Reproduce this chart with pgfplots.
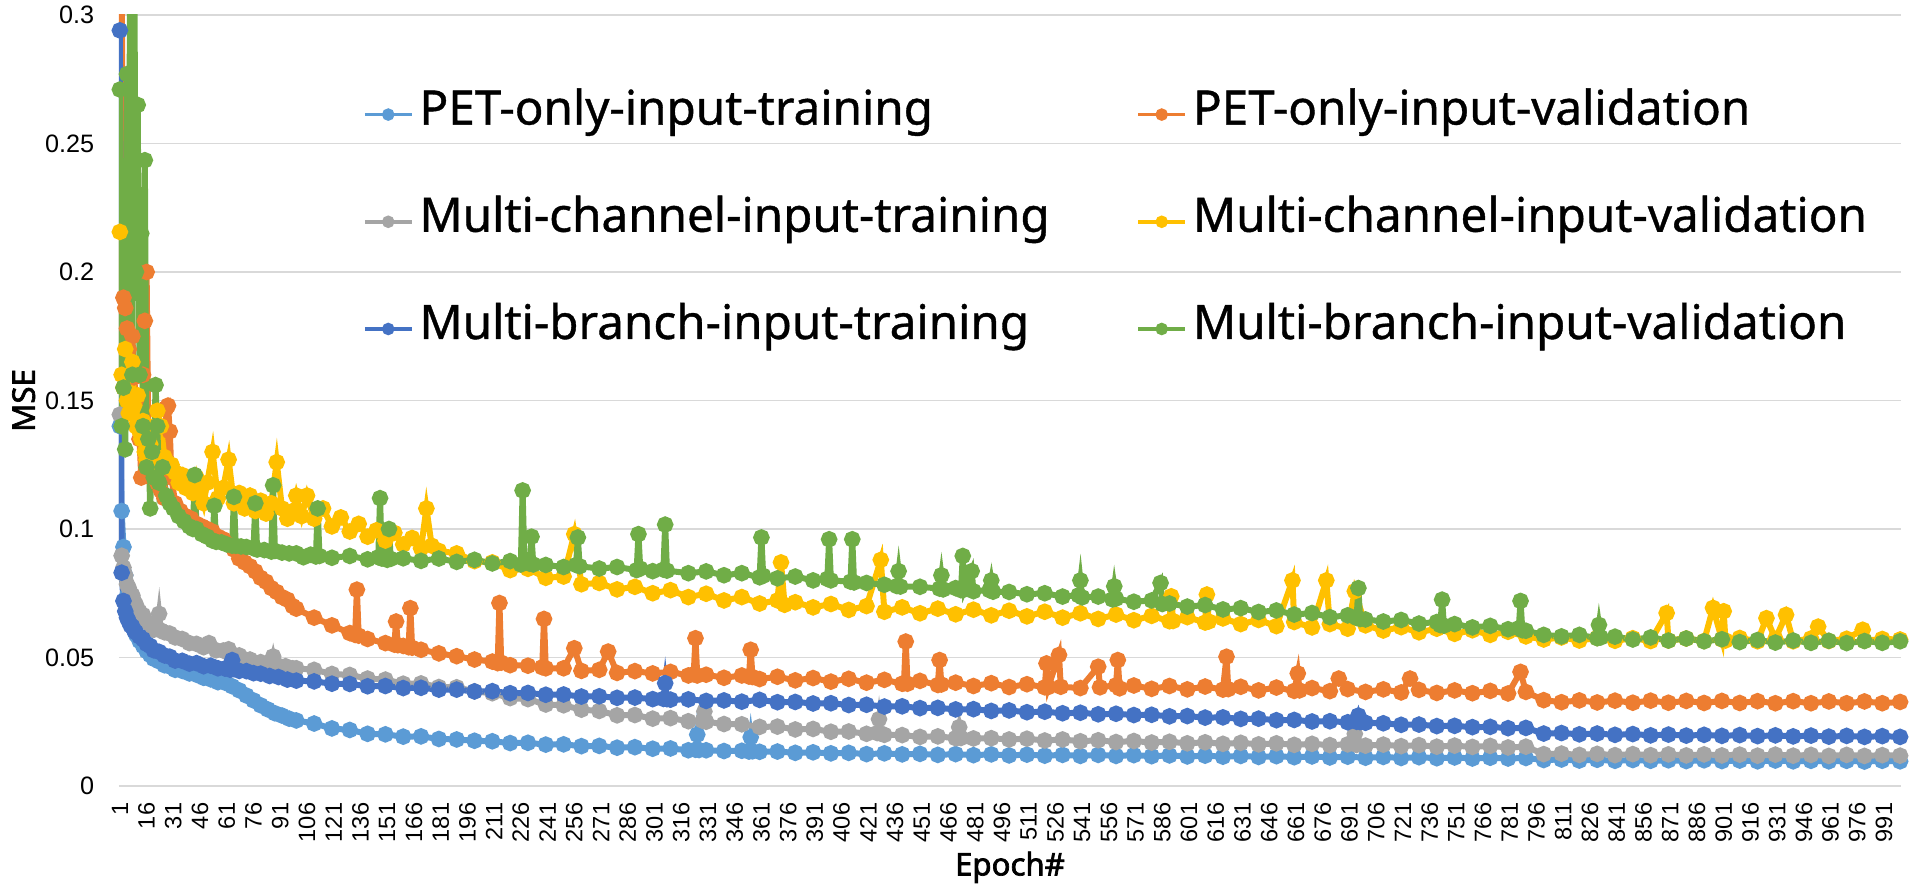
\documentclass[border=0pt]{standalone}
\usepackage{pgfplots}
\pgfplotsset{compat=1.18}
\usepackage{fontspec}
\setmainfont{Liberation Sans}
\newfontfamily\legfont[FakeBold=0.8]{Noto Sans}
\newfontfamily\titlefont[FakeBold=2.2]{Noto Sans}
\definecolor{cLB}{HTML}{5B9BD5}
\definecolor{cOR}{HTML}{ED7D31}
\definecolor{cGR}{HTML}{A5A5A5}
\definecolor{cYE}{HTML}{FFC000}
\definecolor{cDB}{HTML}{4472C4}
\definecolor{cGN}{HTML}{70AD47}
\begin{document}
\begin{tikzpicture}
\begin{axis}[
  scale only axis, width=445.5pt, height=192.75pt,
  xmin=0.5, xmax=1000.5, ymin=0, ymax=0.3,
  axis line style={draw=none},
  major tick length=0pt,
  /pgf/number format/assume math mode=true,
  ytick={0,0.05,0.1,0.15,0.2,0.25,0.3},
  yticklabels={0,0.05,0.1,0.15,0.2,0.25,0.3},
  xtick={1,16,...,991},
  xticklabel={\pgfmathprintnumber{\tick}},
  yticklabel style={font=\fontsize{6.3}{7}\selectfont, anchor=east, inner sep=0pt, xshift=-6pt},
  xticklabel style={font=\fontsize{5.9}{7}\selectfont, yshift=-4pt, rotate=90, anchor=east, inner sep=0pt},
  ymajorgrids, grid style={draw=black!15, line width=0.4pt},
  xlabel={\titlefont Epoch\#},
  ylabel={\titlefont MSE},
  xlabel style={at={(rel axis cs:0.5,-0.1160)}, anchor=base, font=\fontsize{7.8}{9}\selectfont},
  ylabel style={at={(rel axis cs:-0.0535,0.5)}, anchor=center, font=\fontsize{7.8}{9}\selectfont},
  every axis plot/.append style={line width=1.5pt, mark=*, mark size=1.3pt},
  legend columns=2,
  legend cell align=left,
  legend image code/.code={\draw[mark repeat=2,mark phase=2,#1,line width=0.9pt,mark size=1.1pt] plot coordinates {(0pt,0pt) (5.875pt,0pt) (11.75pt,0pt)};},
  legend style={draw=none, fill=none, inner sep=0pt, outer sep=0pt,
    at={(rel axis cs:0.1369,0.7318)}, anchor=west,
    font=\legfont\fontsize{11.9}{13}\selectfont,
    nodes={inner sep=0pt, text height=0.72em, text depth=0.22em},
    row sep=17.4pt,
    /tikz/every odd column/.append style={column sep=1.5pt},
    /tikz/every even column/.append style={column sep=21.7pt}},
]
\coordinate (BL) at (rel axis cs:0,0);
\coordinate (TR) at (rel axis cs:1,1);
% PET-only-input-training
\addplot[color=cLB, mark options={fill=cLB}] coordinates {
(1,0.140) (2,0.107) (3,0.093) (4,0.082) (5,0.074) (6,0.069) (7,0.066) (8,0.063) (9,0.061) (10,0.059)
(12,0.0565) (14,0.0545) (16,0.0525) (18,0.051) (20,0.0495) (23,0.0485) (26,0.047) (29,0.0465) (32,0.0452) (36,0.0448)
(40,0.0438) (44,0.0433) (48,0.0421) (52,0.0415) (56,0.0404) (60,0.0402) (64,0.0388) (68,0.0372) (72,0.0352) (76,0.0333)
(80,0.0314) (84,0.0298) (88,0.0283) (92,0.0274) (96,0.0262) (100,0.0255) (110,0.0243) (120,0.0224) (130,0.0218) (140,0.0203)
(150,0.0201) (160,0.0192) (170,0.0193) (180,0.0183) (190,0.0181) (200,0.0176) (210,0.0174) (220,0.0167) (230,0.0168) (240,0.0161)
(250,0.0162) (260,0.0155) (270,0.0156) (280,0.0149) (290,0.0151) (300,0.0145) (310,0.0146) (320,0.0139) (324,0.0141) (325,0.0200)
(326,0.0140) (330,0.0139) (340,0.0136) (350,0.0137) (354,0.0134) (355,0.0190) (356,0.0135) (360,0.0133) (370,0.0134) (380,0.0129)
(390,0.0131) (400,0.0127) (410,0.0129) (420,0.0124) (430,0.0127) (440,0.0123) (450,0.0125) (460,0.0121) (470,0.0124) (480,0.0120)
(490,0.0123) (500,0.0119) (510,0.0122) (520,0.0118) (530,0.0121) (540,0.0117) (550,0.0121) (560,0.0117) (570,0.0120) (580,0.0116)
(590,0.0119) (600,0.0115) (610,0.0118) (620,0.0114) (630,0.0117) (640,0.0113) (650,0.0116) (660,0.0112) (670,0.0115) (680,0.0111)
(690,0.0114) (700,0.0110) (710,0.0113) (720,0.0109) (730,0.0112) (740,0.0108) (750,0.0111) (760,0.0107) (770,0.0110) (780,0.0107)
(790,0.0109) (800,0.0101) (810,0.0103) (820,0.0099) (830,0.0102) (840,0.0098) (850,0.0101) (860,0.0098) (870,0.0100) (880,0.0097)
(890,0.0100) (900,0.0097) (910,0.0099) (920,0.0096) (930,0.0099) (940,0.0096) (950,0.0098) (960,0.0096) (970,0.0098) (980,0.0095)
(990,0.0098) (1000,0.0096)
};
\addlegendentry{PET-only-input-training}
% PET-only-input-validation
\addplot[color=cOR, mark options={fill=cOR}] coordinates {
(1,0.45) (2,0.32) (3,0.19) (4,0.186) (5,0.178) (6,0.17) (7,0.16) (8,0.175) (9,0.159) (10,0.15)
(11,0.14) (12,0.135) (13,0.12) (14,0.16) (15,0.181) (16,0.200) (17,0.13) (18,0.125) (19,0.122) (20,0.12)
(22,0.118) (24,0.115) (26,0.112) (27,0.147) (28,0.148) (29,0.138) (30,0.12) (32,0.11) (35,0.107) (38,0.105)
(41,0.104) (44,0.102) (47,0.101) (50,0.1) (53,0.099) (56,0.097) (59,0.096) (62,0.094) (65,0.092) (68,0.0885)
(71,0.087) (74,0.0855) (77,0.0835) (80,0.081) (83,0.0795) (86,0.077) (89,0.0755) (92,0.0735) (95,0.0725) (98,0.0700)
(100,0.0690) (110,0.0655) (120,0.0625) (130,0.0595) (133,0.0588) (134,0.0764) (135,0.0585) (140,0.0572) (150,0.0556) (155,0.0550)
(156,0.0640) (157,0.0548) (160,0.0545) (163,0.0540) (164,0.0692) (165,0.0538) (170,0.0530) (180,0.0516) (190,0.0505) (200,0.0492)
(210,0.0484) (213,0.0478) (214,0.0712) (215,0.0480) (220,0.0470) (230,0.0468) (238,0.0462) (239,0.0650) (240,0.0458) (250,0.0458)
(256,0.0536) (260,0.0448) (270,0.0452) (275,0.0523) (280,0.0440) (290,0.0447) (300,0.0438) (310,0.0444) (320,0.0430) (323,0.0435)
(324,0.0575) (325,0.0430) (330,0.0433) (340,0.0421) (350,0.0430) (354,0.0426) (355,0.0530) (356,0.0424) (360,0.0416) (370,0.0425)
(380,0.0411) (390,0.0420) (400,0.0406) (410,0.0417) (420,0.0402) (430,0.0413) (440,0.0398) (441,0.0400) (442,0.0562) (443,0.0398)
(450,0.0409) (460,0.0393) (461,0.0490) (462,0.0395) (470,0.0402) (480,0.0389) (490,0.0400) (500,0.0385) (510,0.0396) (520,0.0384)
(521,0.0477) (522,0.0385) (528,0.0510) (529,0.0386) (540,0.0381) (550,0.0464) (551,0.0384) (560,0.0392) (561,0.0490) (562,0.0380)
(570,0.0391) (580,0.0378) (590,0.0389) (600,0.0376) (610,0.0387) (620,0.0375) (622,0.0503) (623,0.0377) (630,0.0386) (640,0.0372)
(650,0.0383) (660,0.0370) (662,0.0438) (663,0.0372) (670,0.0381) (680,0.0369) (685,0.0418) (690,0.0377) (700,0.0366) (710,0.0376)
(720,0.0364) (725,0.0418) (730,0.0374) (740,0.0362) (750,0.0372) (760,0.0361) (770,0.0370) (780,0.0360) (787,0.0444) (790,0.0366)
(800,0.0334) (810,0.0326) (820,0.0333) (830,0.0325) (840,0.0332) (850,0.0324) (860,0.0332) (870,0.0324) (880,0.0331) (890,0.0323)
(900,0.0331) (910,0.0323) (920,0.0330) (930,0.0322) (940,0.0330) (950,0.0322) (960,0.0329) (970,0.0322) (980,0.0329) (990,0.0322)
(1000,0.0327)
};
\addlegendentry{PET-only-input-validation}
% Multi-channel-input-training
\addplot[color=cGR, mark options={fill=cGR}] coordinates {
(1,0.1445) (2,0.0896) (3,0.085) (4,0.082) (5,0.0785) (6,0.077) (7,0.0748) (8,0.0742) (9,0.0718) (10,0.0705)
(12,0.0678) (14,0.0665) (16,0.0638) (18,0.0628) (20,0.0608) (22,0.0612) (23,0.0670) (24,0.0605) (26,0.0598) (29,0.0593)
(32,0.0578) (36,0.0572) (40,0.0556) (44,0.0553) (48,0.0540) (51,0.0556) (55,0.0528) (59,0.0527) (62,0.0532) (65,0.0510)
(68,0.0508) (71,0.0493) (74,0.0492) (77,0.0478) (80,0.0482) (84,0.0472) (86,0.0474) (87,0.0504) (88,0.0472) (90,0.0468)
(94,0.0466) (98,0.0458) (100,0.0458) (110,0.0452) (120,0.0436) (130,0.0432) (140,0.0418) (150,0.0414) (160,0.0398) (170,0.0399)
(180,0.0385) (190,0.0384) (200,0.0368) (210,0.0361) (220,0.0342) (230,0.0338) (240,0.0317) (250,0.0314) (260,0.0297) (270,0.0292)
(280,0.0275) (290,0.0276) (300,0.0262) (310,0.0264) (320,0.0252) (328,0.0254) (329,0.0290) (330,0.0250) (340,0.0241) (350,0.0240)
(360,0.0230) (370,0.0231) (380,0.0220) (390,0.0222) (400,0.0211) (410,0.0212) (420,0.0203) (426,0.0206) (427,0.0260) (428,0.0204)
(430,0.0199) (440,0.0198) (450,0.0191) (460,0.0193) (470,0.0186) (471,0.0188) (472,0.0229) (473,0.0187) (480,0.0185) (490,0.0186)
(500,0.0181) (510,0.0184) (520,0.0177) (530,0.0181) (540,0.0174) (550,0.0178) (560,0.0171) (570,0.0175) (580,0.0169) (590,0.0172)
(600,0.0166) (610,0.0170) (620,0.0164) (630,0.0168) (640,0.0162) (650,0.0166) (660,0.0160) (670,0.0164) (680,0.0159) (690,0.0162)
(694,0.0203) (695,0.0160) (700,0.0157) (710,0.0161) (720,0.0155) (730,0.0159) (740,0.0153) (750,0.0157) (760,0.0152) (770,0.0156)
(780,0.0150) (790,0.0153) (800,0.0124) (810,0.0126) (820,0.0121) (830,0.0125) (840,0.0120) (850,0.0124) (860,0.0120) (870,0.0123)
(880,0.0119) (890,0.0123) (900,0.0119) (910,0.0122) (920,0.0118) (930,0.0122) (940,0.0118) (950,0.0121) (960,0.0117) (970,0.0121)
(980,0.0117) (990,0.0120) (1000,0.0118)
};
\addlegendentry{Multi-channel-input-training}
% Multi-channel-input-validation
\addplot[color=cYE, mark options={fill=cYE}] coordinates {
(1,0.2156) (2,0.16) (3,0.155) (4,0.17) (5,0.15) (6,0.145) (7,0.16) (8,0.165) (9,0.148) (10,0.14)
(11,0.152) (12,0.138) (13,0.135) (14,0.142) (15,0.13) (16,0.127) (17,0.14) (18,0.133) (19,0.128) (20,0.124)
(22,0.146) (24,0.14) (26,0.128) (28,0.124) (30,0.125) (32,0.122) (34,0.118) (36,0.121) (38,0.116) (40,0.119)
(42,0.114) (44,0.12) (46,0.115) (48,0.11) (50,0.118) (53,0.13) (56,0.112) (59,0.116) (62,0.127) (65,0.11)
(68,0.114) (71,0.108) (74,0.113) (77,0.107) (80,0.111) (83,0.106) (86,0.11) (89,0.126) (92,0.108) (95,0.104)
(98,0.107) (100,0.1130) (103,0.1050) (106,0.1130) (110,0.1040) (115,0.1080) (120,0.1010) (125,0.1045) (130,0.0990) (135,0.1020)
(140,0.0970) (145,0.0995) (150,0.0955) (155,0.0985) (160,0.0940) (165,0.0965) (170,0.0925) (173,0.1080) (176,0.0935) (180,0.0915)
(190,0.0905) (200,0.0875) (210,0.0870) (220,0.0840) (230,0.0845) (240,0.0810) (250,0.0815) (256,0.0980) (260,0.0785) (270,0.0790)
(280,0.0765) (290,0.0775) (300,0.0750) (310,0.0762) (320,0.0735) (330,0.0748) (340,0.0722) (350,0.0735) (360,0.0710) (370,0.0722)
(372,0.0870) (374,0.0705) (380,0.0715) (390,0.0695) (400,0.0708) (410,0.0685) (420,0.0700) (428,0.0880) (430,0.0678) (440,0.0695)
(450,0.0672) (460,0.0690) (470,0.0668) (480,0.0686) (490,0.0664) (500,0.0682) (510,0.0660) (520,0.0678) (530,0.0655) (540,0.0672)
(550,0.0650) (560,0.0667) (570,0.0645) (580,0.0662) (590,0.0641) (591,0.0738) (592,0.0642) (600,0.0657) (610,0.0636) (611,0.0745)
(612,0.0640) (620,0.0652) (630,0.0630) (640,0.0646) (650,0.0622) (659,0.0800) (660,0.0638) (670,0.0617) (678,0.0800) (680,0.0630)
(690,0.0612) (694,0.0758) (700,0.0625) (710,0.0605) (720,0.0618) (730,0.0598) (740,0.0612) (750,0.0592) (760,0.0606) (770,0.0588)
(780,0.0600) (790,0.0582) (800,0.0570) (810,0.0578) (820,0.0566) (830,0.0576) (840,0.0565) (850,0.0575) (860,0.0564) (869,0.0673)
(870,0.0566) (880,0.0574) (890,0.0564) (895,0.0693) (900,0.0570) (901,0.0680) (902,0.0566) (910,0.0576) (920,0.0563) (925,0.0653)
(930,0.0572) (936,0.0666) (940,0.0563) (950,0.0574) (954,0.0620) (960,0.0564) (970,0.0573) (979,0.0608) (980,0.0565) (990,0.0572)
(1000,0.0570)
};
\addlegendentry{Multi-channel-input-validation}
% Multi-branch-input-training
\addplot[color=cDB, mark options={fill=cDB}] coordinates {
(1,0.294) (2,0.083) (3,0.072) (4,0.068) (5,0.0655) (6,0.064) (7,0.0625) (8,0.062) (9,0.0605) (10,0.0598)
(12,0.0582) (14,0.0571) (16,0.0553) (18,0.0545) (20,0.0528) (23,0.0522) (26,0.0508) (29,0.0503) (32,0.0488) (36,0.0487)
(40,0.0476) (44,0.0478) (48,0.0466) (52,0.0468) (56,0.0458) (60,0.0457) (63,0.0452) (64,0.0490) (65,0.0455) (68,0.0448)
(72,0.0447) (76,0.0439) (80,0.0437) (85,0.0428) (90,0.0424) (95,0.0414) (100,0.0410) (110,0.0407) (120,0.0398) (130,0.0397)
(140,0.0388) (150,0.0389) (160,0.0381) (170,0.0382) (180,0.0375) (190,0.0375) (200,0.0368) (210,0.0369) (220,0.0361) (230,0.0362)
(240,0.0355) (250,0.0356) (260,0.0348) (270,0.0349) (280,0.0343) (290,0.0344) (300,0.0338) (306,0.0339) (307,0.0400) (308,0.0338)
(310,0.0336) (320,0.0337) (330,0.0331) (340,0.0333) (350,0.0328) (360,0.0335) (370,0.0326) (380,0.0327) (390,0.0321) (400,0.0322)
(410,0.0315) (420,0.0316) (430,0.0309) (440,0.0310) (450,0.0303) (460,0.0304) (470,0.0298) (480,0.0299) (490,0.0292) (500,0.0294)
(510,0.0287) (520,0.0289) (530,0.0283) (540,0.0285) (550,0.0279) (560,0.0281) (570,0.0276) (580,0.0277) (590,0.0271) (600,0.0272)
(610,0.0266) (620,0.0267) (630,0.0261) (640,0.0262) (650,0.0256) (660,0.0257) (670,0.0251) (680,0.0252) (690,0.0248) (695,0.0250)
(696,0.0274) (697,0.0249) (700,0.0246) (710,0.0244) (720,0.0238) (730,0.0239) (740,0.0233) (750,0.0234) (760,0.0229) (770,0.0230)
(780,0.0225) (790,0.0226) (800,0.0204) (810,0.0206) (820,0.0201) (830,0.0204) (840,0.0199) (850,0.0202) (860,0.0197) (870,0.0200)
(880,0.0196) (890,0.0199) (900,0.0195) (910,0.0198) (920,0.0194) (930,0.0197) (940,0.0193) (950,0.0196) (960,0.0192) (970,0.0195)
(980,0.0191) (990,0.0194) (1000,0.0191)
};
\addlegendentry{Multi-branch-input-training}
% Multi-branch-input-validation
\addplot[color=cGN, mark options={fill=cGN}] coordinates {
(1,0.271) (2,0.14) (3,0.155) (4,0.131) (5,0.277) (6,0.21) (7,0.35) (8,0.16) (9,0.33) (10,0.2)
(11,0.265) (12,0.16) (13,0.215) (14,0.14) (15,0.2435) (16,0.124) (17,0.135) (18,0.108) (19,0.13) (20,0.12)
(21,0.156) (22,0.14) (23,0.118) (25,0.124) (27,0.113) (29,0.110) (31,0.108) (34,0.105) (37,0.103) (40,0.101)
(42,0.1) (43,0.121) (44,0.1) (47,0.098) (50,0.097) (53,0.0955) (54,0.109) (55,0.095) (58,0.0948) (61,0.094)
(64,0.0935) (65,0.1125) (66,0.0935) (69,0.0932) (72,0.093) (76,0.0925) (77,0.110) (78,0.092) (82,0.0918) (86,0.0912)
(87,0.117) (88,0.0915) (92,0.0908) (96,0.0905) (100,0.0905) (104,0.0890) (108,0.0900) (111,0.0893) (112,0.1080) (113,0.0895)
(120,0.0888) (130,0.0895) (140,0.0882) (146,0.0890) (147,0.1120) (148,0.0885) (151,0.0880) (152,0.1000) (153,0.0884) (160,0.0886)
(170,0.0876) (180,0.0885) (190,0.0872) (200,0.0880) (210,0.0866) (220,0.0875) (226,0.0862) (227,0.1150) (228,0.0870) (231,0.0865)
(232,0.0970) (233,0.0862) (240,0.0860) (250,0.0852) (257,0.0860) (258,0.0967) (259,0.0855) (270,0.0846) (280,0.0852) (291,0.0840)
(292,0.0980) (293,0.0846) (300,0.0836) (306,0.0842) (307,0.1017) (308,0.0838) (320,0.0828) (330,0.0835) (340,0.0820) (350,0.0828)
(360,0.0812) (361,0.0967) (362,0.0818) (370,0.0808) (380,0.0815) (390,0.0800) (398,0.0806) (399,0.0960) (400,0.0800) (411,0.0795)
(412,0.0960) (413,0.0792) (420,0.0790) (430,0.0783) (437,0.0778) (438,0.0836) (439,0.0776) (450,0.0775) (461,0.0768) (462,0.0820)
(463,0.0765) (470,0.0770) (473,0.0762) (474,0.0895) (475,0.0765) (479,0.0836) (480,0.0758) (489,0.0762) (490,0.0800) (491,0.0756)
(500,0.0755) (510,0.0746) (520,0.0750) (530,0.0737) (539,0.0742) (540,0.0800) (541,0.0734) (550,0.0737) (558,0.0726) (559,0.0777)
(560,0.0729) (570,0.0717) (580,0.0722) (585,0.0790) (586,0.0708) (590,0.0710) (600,0.0698) (610,0.0704) (620,0.0687) (630,0.0692)
(640,0.0677) (650,0.0683) (660,0.0667) (670,0.0673) (680,0.0657) (690,0.0664) (695,0.0654) (696,0.0770) (697,0.0650) (700,0.0648)
(710,0.0640) (720,0.0646) (730,0.0632) (740,0.0638) (742,0.0626) (743,0.0725) (744,0.0624) (750,0.0630) (760,0.0617) (770,0.0623)
(780,0.0610) (786,0.0614) (787,0.0720) (788,0.0606) (790,0.0604) (800,0.0588) (810,0.0582) (820,0.0588) (830,0.0575) (831,0.0627)
(832,0.0578) (840,0.0581) (850,0.0570) (860,0.0578) (870,0.0566) (880,0.0574) (890,0.0563) (900,0.0571) (910,0.0560) (920,0.0568)
(930,0.0558) (940,0.0566) (950,0.0557) (960,0.0565) (970,0.0556) (980,0.0564) (990,0.0557) (1000,0.0563)
};
\addlegendentry{Multi-branch-input-validation}
\end{axis}
\pgfresetboundingbox
\path ([shift={(-29.75pt,-25.25pt)}]BL) rectangle ([shift={(4.75pt,3.75pt)}]TR);
\end{tikzpicture}
\end{document}
